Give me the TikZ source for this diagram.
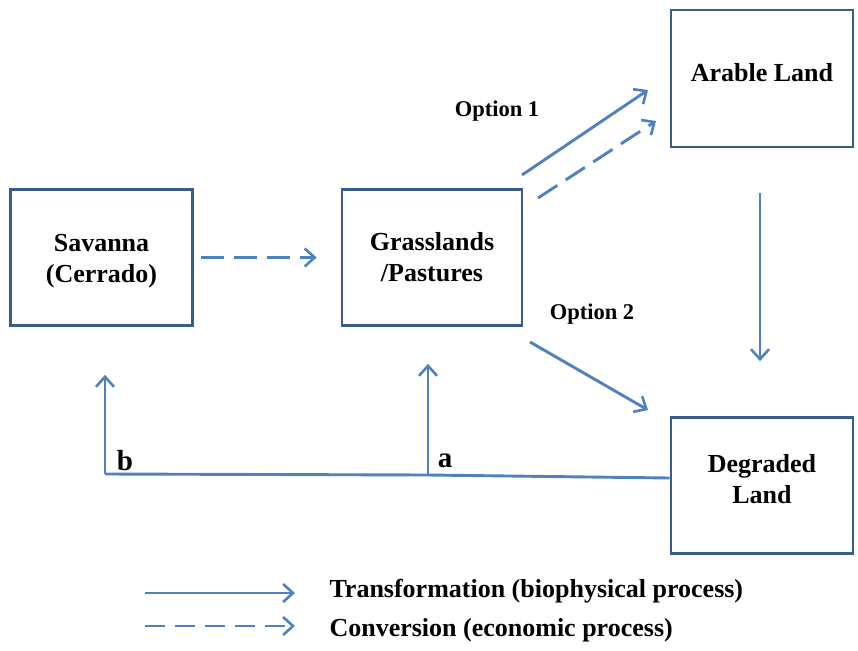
\documentclass[tikz,border=0pt]{standalone}
\usepackage{fontspec}
\setmainfont{Liberation Serif}
\usetikzlibrary{positioning, arrows.meta}
\definecolor{boxblue}{HTML}{385D8A}
\definecolor{flowblue}{HTML}{4F81BD}

\begin{document}
\begin{tikzpicture}[
    x=1pt, y=-1pt,
    % Land-use box style
    landbox/.style={
        rectangle,
        draw=boxblue,
        line width=2.7pt,
        minimum width=182pt,
        minimum height=136pt,
        align=center,
        font=\fontsize{26}{31}\selectfont\bfseries
    },
    % Transformation arrow style
    flow/.style={
        -{Straight Barb[length=10pt, width=18pt, line width=2.6pt]},
        line width=2.9pt,
        flowblue
    },
    % Conversion arrow style
    conv/.style={
        flow,
        dash pattern=on 23pt off 10pt
    },
    % Label style
    lbl/.style={
        font=\fontsize{22.5}{26}\selectfont\bfseries
    }
]
\useasboundingbox (0,0) rectangle (858,650);

% === Land-use boxes ===
\node[landbox, text height=56pt] (savanna) at (101.5,257.5) {Savanna\\(Cerrado)};
\node[landbox, minimum width=180pt] (grass) at (432,257.5) {Grasslands\\/Pastures};
\node[landbox, minimum height=137pt, text depth=12pt] (arable) at (762,78.5) {Arable Land};
\node[landbox, text depth=14pt] (degraded) at (762,485.5) {Degraded\\Land};

% === Free ends of arrows ===
\coordinate (o1s) at (522,175);
\coordinate (o1e) at (648,90);
\coordinate (c1s) at (538,198);
\coordinate (c1e) at (656,121);
\coordinate (o2s) at (530,342);
\coordinate (o2e) at (648,410);
\coordinate (b) at (105,474);
\coordinate (a) at (428,475);

% === Arrows between boxes ===
\draw[conv] ([xshift=7pt]savanna.east) -- ([xshift=-24pt]grass.west);
\draw[flow] (o1s) -- (o1e);
\draw[conv] (c1s) -- (c1e);
\draw[flow] (o2s) -- (o2e);
\draw[flow] ([shift={(-2pt,-45pt)}]arable.south) -- ([shift={(-2pt,55pt)}]degraded.north);

% === Return path from degraded land ===
\draw[flowblue, line width=2.9pt] ([yshift=7.5pt]degraded.west) -- (a) -- (b);
\draw[flow] (b) -- ([xshift=3.5pt, yshift=-48pt]savanna.south);
\draw[flow] (a) -- ([xshift=-4pt, yshift=-37pt]grass.south);

% === Labels ===
\node[lbl] (opt1) at (497,111) {Option 1};
\node[lbl] (opt2) at (592,314) {Option 2};
\node[font=\fontsize{29}{32}\selectfont\bfseries] (blbl) at (125,461) {b};
\node[font=\fontsize{29}{32}\selectfont\bfseries] (albl) at (445,461) {a};

% === Legend ===
\coordinate (l1s) at (145,593);
\coordinate (l1e) at (295,593);
\coordinate (l2s) at (145,626);
\coordinate (l2e) at (295,626);
\draw[flow] (l1s) -- (l1e);
\draw[conv, dash pattern=on 20pt off 10pt] (l2s) -- (l2e);
\node[anchor=west, font=\fontsize{26}{30}\selectfont\bfseries] (lt1) at (326,591) {Transformation (biophysical process)};
\node[anchor=west, font=\fontsize{26}{30}\selectfont\bfseries] (lt2) at (326,630) {Conversion (economic process)};

\end{tikzpicture}
\end{document}
